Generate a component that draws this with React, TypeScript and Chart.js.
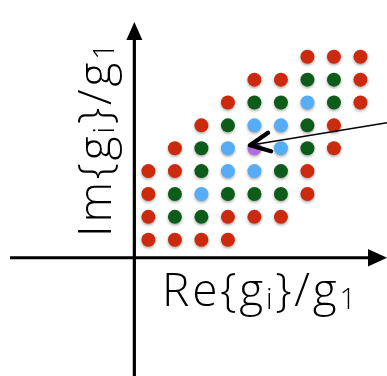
import { useEffect, useRef } from "react";
import { Chart, registerables } from "chart.js";

Chart.register(...registerables);

// Lattice points as [re, im] grid coordinates, grouped by colour class
const redPoints: [number, number][] = [
  [6, 8], [7, 8], [8, 8],
  [4, 7], [5, 7], [8, 7],
  [3, 6], [8, 6],
  [2, 5], [7, 5],
  [1, 4], [7, 4],
  [0, 3], [1, 3], [6, 3],
  [0, 2], [6, 2],
  [0, 1], [3, 1], [4, 1], [5, 1],
  [0, 0], [1, 0], [2, 0], [3, 0],
];
const greenPoints: [number, number][] = [
  [6, 7], [7, 7],
  [4, 6], [5, 6], [7, 6],
  [3, 5], [6, 5],
  [2, 4], [6, 4],
  [2, 3], [5, 3],
  [1, 2], [3, 2], [4, 2], [5, 2],
  [1, 1], [2, 1],
];
const bluePoints: [number, number][] = [
  [6, 6],
  [4, 5], [5, 5],
  [3, 4], [5, 4],
  [3, 3], [4, 3],
  [2, 2],
];
const purplePoints: [number, number][] = [[4, 4]];

// Axis titles as runs of normal / subscript text
type Run = { text: string; sub?: boolean };
const xTitle: Run[] = [{ text: "Re{g" }, { text: "i", sub: true }, { text: "}/g" }, { text: "1", sub: true }];
const yTitle: Run[] = [{ text: "Im{g" }, { text: "i", sub: true }, { text: "}/g" }, { text: "1", sub: true }];

const COLORS = {
  red: "#cb2a0e",
  green: "#0e5c1a",
  blue: "#56acf5",
  purple: "#b26ce0",
};

// Where the two coordinate axes cross, in grid units
const AXIS_X_AT = -0.53;
const AXIS_Y_AT = -0.79;

const FONT_FAMILY = "'Open Sans', 'Liberation Sans', sans-serif";
const FONT_WEIGHT = 300;
const FONT_SIZE = 46;
const LETTER_SPACING = 2.8;

function toXY(pts: [number, number][]) {
  return pts.map(([x, y]) => ({ x, y }));
}

// Draws runs starting at (0,0) on the baseline, left aligned
function drawRuns(ctx: CanvasRenderingContext2D, runs: Run[], size: number) {
  let x = 0;
  ctx.textBaseline = "alphabetic";
  ctx.textAlign = "left";
  (ctx as any).letterSpacing = `${LETTER_SPACING}px`;
  for (const r of runs) {
    const s = r.sub ? Math.round(size * 0.62) : size;
    ctx.font = `${FONT_WEIGHT} ${s}px ${FONT_FAMILY}`;
    ctx.fillText(r.text, x, r.sub ? size * 0.06 : 0);
    x += ctx.measureText(r.text).width;
  }
}

const diagramPlugin = {
  id: "latticeDiagram",
  beforeDatasetsDraw(chart: Chart) {
    const ctx = chart.ctx;
    const xs = chart.scales.x;
    const ys = chart.scales.y;
    const W = chart.width;
    const H = chart.height;
    const ax = xs.getPixelForValue(AXIS_X_AT);
    const ay = ys.getPixelForValue(AXIS_Y_AT);

    ctx.save();
    ctx.strokeStyle = "#000";
    ctx.fillStyle = "#000";
    ctx.lineWidth = 3.2;
    // vertical axis
    ctx.beginPath();
    ctx.moveTo(ax, H);
    ctx.lineTo(ax, 36);
    ctx.stroke();
    ctx.beginPath();
    ctx.moveTo(ax, 22);
    ctx.lineTo(ax - 8, 40);
    ctx.lineTo(ax + 8, 40);
    ctx.closePath();
    ctx.fill();
    // horizontal axis
    ctx.beginPath();
    ctx.moveTo(10, ay);
    ctx.lineTo(W - 16, ay);
    ctx.stroke();
    ctx.beginPath();
    ctx.moveTo(W, ay);
    ctx.lineTo(W - 19, ay - 8.7);
    ctx.lineTo(W - 19, ay + 8.7);
    ctx.closePath();
    ctx.fill();
    ctx.restore();

    // soft drop shadow under the dots
    ctx.save();
    ctx.shadowColor = "rgba(0,0,0,0.35)";
    ctx.shadowBlur = 3;
    ctx.shadowOffsetY = 1.5;
  },
  afterDatasetsDraw(chart: Chart) {
    const ctx = chart.ctx;
    ctx.restore();
    const xs = chart.scales.x;
    const ys = chart.scales.y;
    const W = chart.width;

    // pointer to the highlighted lattice point
    const [px, py] = purplePoints[0];
    const tipX = xs.getPixelForValue(px) - 4.5;
    const tipY = ys.getPixelForValue(py) - 3;
    const startX = W;
    const startY = 122.7;
    const ang = Math.atan2(startY - tipY, startX - tipX);
    ctx.save();
    ctx.strokeStyle = "#000";
    ctx.lineWidth = 1.6;
    ctx.beginPath();
    ctx.moveTo(startX, startY);
    ctx.lineTo(tipX + 3, tipY + 3 * Math.tan(ang));
    ctx.stroke();
    ctx.lineWidth = 4.4;
    ctx.lineCap = "round";
    ctx.lineJoin = "round";
    const armLen = 22;
    const spread = 0.44;
    ctx.beginPath();
    ctx.moveTo(tipX + armLen * Math.cos(ang - spread), tipY + armLen * Math.sin(ang - spread));
    ctx.lineTo(tipX, tipY);
    ctx.lineTo(tipX + armLen * Math.cos(ang + spread), tipY + armLen * Math.sin(ang + spread));
    ctx.stroke();
    ctx.restore();

    // axis titles
    ctx.save();
    ctx.fillStyle = "#000";
    ctx.translate(162, 306);
    drawRuns(ctx, xTitle, FONT_SIZE);
    ctx.restore();

    ctx.save();
    ctx.fillStyle = "#000";
    ctx.translate(111, 237);
    ctx.rotate(-Math.PI / 2);
    drawRuns(ctx, yTitle, FONT_SIZE);
    ctx.restore();
  },
};

export default function App() {
  const canvasRef = useRef<HTMLCanvasElement | null>(null);

  useEffect(() => {
    const canvas = canvasRef.current;
    if (!canvas) return;
    const dot = (data: [number, number][], color: string) => ({
      data: toXY(data),
      backgroundColor: color,
      borderWidth: 0,
      pointRadius: 7,
      pointHoverRadius: 7,
    });
    const chart = new Chart(canvas, {
      type: "scatter",
      data: {
        datasets: [
          dot(redPoints, COLORS.red),
          dot(greenPoints, COLORS.green),
          dot(bluePoints, COLORS.blue),
          dot(purplePoints, COLORS.purple),
        ],
      },
      options: {
        animation: false,
        responsive: false,
        devicePixelRatio: 1,
        events: [],
        layout: { padding: 0 },
        plugins: {
          legend: { display: false },
          tooltip: { enabled: false },
        },
        scales: {
          x: { type: "linear", display: false, min: -5.335, max: 8.738 },
          y: { type: "linear", display: false, min: -5.655, max: 10.177 },
        },
      },
      plugins: [diagramPlugin],
    });
    return () => chart.destroy();
  }, []);

  return (
    <div style={{ position: "fixed", left: 0, top: 0, width: 387, height: 376, background: "#fff" }}>
      <canvas ref={canvasRef} width={387} height={376} style={{ display: "block" }} />
    </div>
  );
}
